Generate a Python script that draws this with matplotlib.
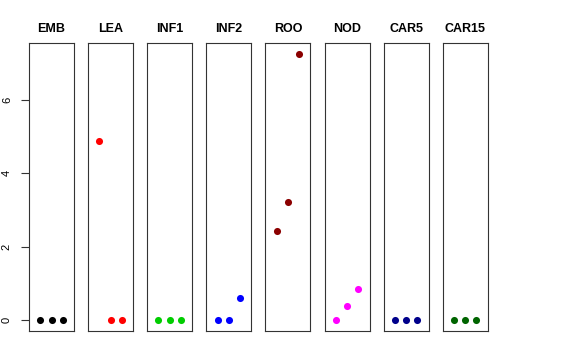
import matplotlib.pyplot as plt

tissues = ["EMB", "LEA", "INF1", "INF2", "ROO", "NOD", "CAR5", "CAR15"]
colors = ["#000000", "#FF0000", "#00CD00", "#0000FF", "#8B0000", "#FF00FF", "#00008B", "#006400"]
replicate = [1, 2, 3]
values = [
    [0.0, 0.0, 0.0],
    [4.89, 0.0, 0.0],
    [0.0, 0.0, 0.0],
    [0.0, 0.0, 0.60],
    [2.44, 3.23, 7.26],
    [0.0, 0.40, 0.86],
    [0.0, 0.0, 0.0],
    [0.0, 0.0, 0.0],
]
y_ticks = [0, 2, 4, 6]

fig = plt.figure(figsize=(5.76, 3.6), dpi=100)
fig.patch.set_facecolor("white")

ymax = max(max(v) for v in values)
pad = ymax * 0.04
W, H = 576, 360

for i, (name, col, vals) in enumerate(zip(tissues, colors, values)):
    left = 29 + i * 59.1
    ax = fig.add_axes([left / W, 1 - 331 / H, 45 / W, 288 / H])
    ax.scatter(replicate, vals, s=26, color=col, linewidths=0, zorder=3)
    ax.set_xlim(0, 4)
    ax.set_ylim(-pad, ymax + pad)
    ax.set_title(name, fontsize=9, fontweight="bold", family="Liberation Sans", pad=8)
    ax.set_xticks([])
    for s in ax.spines.values():
        s.set_linewidth(0.8)
        s.set_color("#333333")
    if i == 0:
        ax.set_yticks(y_ticks)
        ax.set_yticklabels([str(t) for t in y_ticks], rotation=90, va="center",
                           fontsize=8, family="Liberation Sans")
        ax.tick_params(axis="y", length=5.8, width=0.8, pad=6.5, color="#333333")
    else:
        ax.set_yticks([])

fig.savefig("out.png", dpi=100, facecolor="white")
